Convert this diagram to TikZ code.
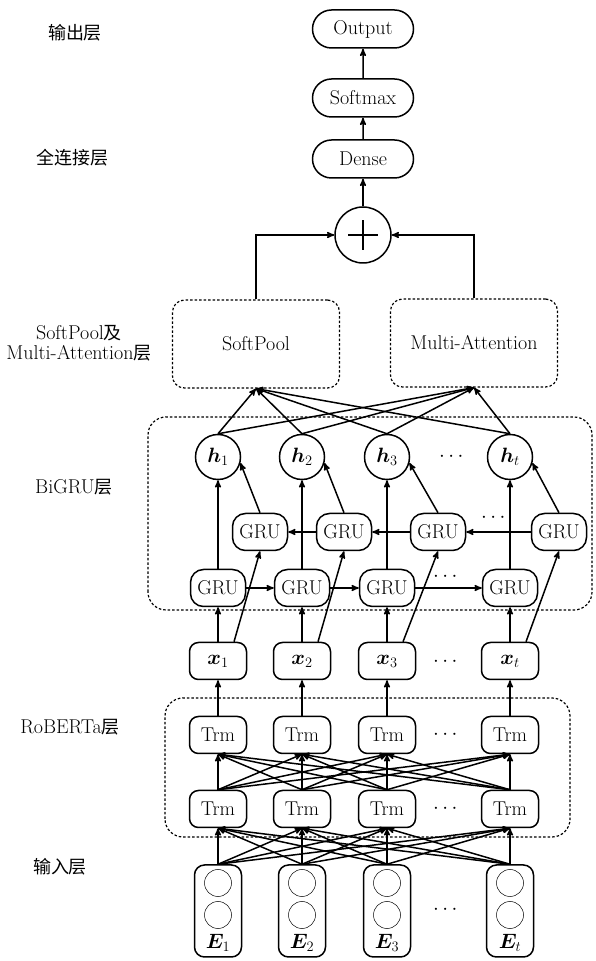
\documentclass[tikz,border=0pt]{standalone}
\usepackage{fontspec}
\usepackage{amsmath}
\usepackage{bm}
\newfontfamily\cjk[Scale=0.9]{Noto Sans CJK SC}
\usetikzlibrary{arrows}
\usetikzlibrary{shapes.misc}

\begin{document}
\begin{tikzpicture}[x=1pt,y=1pt,>=stealth',line width=1.5pt,font=\fontsize{20}{20}\selectfont,
  every text node part/.style={align=center},
  box/.style={draw,rounded corners=9pt,minimum width=57pt,minimum height=37pt,inner sep=0pt},
  gru/.style={draw,rounded corners=13pt,minimum width=55pt,minimum height=37pt,inner sep=0pt},
  hnode/.style={draw,circle,minimum size=45pt,inner sep=0pt},
  ebox/.style={draw,rounded corners=10pt,minimum width=47pt,minimum height=92pt},
  cell/.style={draw,circle,line width=0.5pt,minimum size=27pt,inner sep=0pt},
  pill/.style={draw,rounded rectangle,minimum width=101pt,minimum height=38pt,inner sep=0pt},
  pool/.style={draw,dash pattern=on 2.5pt off 2pt,line width=1.2pt,rounded corners=12pt,minimum width=167pt,minimum height=88pt},
  group/.style={draw,dash pattern=on 2.5pt off 2pt,line width=1.2pt,rounded corners=18pt}]
  \useasboundingbox (0,0) rectangle (595,961);

  % top: output part
  \node[pill]  (out)   at (363,932)  {Output};
  \node[pill]  (smax)  [below of=out,node distance=69pt]  {Softmax};
  \node[pill]  (dense) [below of=smax,node distance=61pt] {Dense};
  \node[draw,circle,minimum size=56pt] (plus) [below of=dense,node distance=76pt] {};
  \draw (plus.center) +(-15,0) -- +(15,0) (plus.center) +(0,-15) -- +(0,15);
  \node[pool]  (sp)    at (256,617)  {SoftPool};
  \node[pool]  (ma)    at (474,618)  {Multi-Attention};

  % layer containers
  \draw[group] (148,351) rectangle (592,544);
  \draw[group] (165,124) rectangle (570,263);

  % columns
  \foreach \i/\x/\d/\s in {1/218/42/1,2/302/42/2,3/387/51/3,4/510/49/t} {
    \node[ebox] (e\i)  at (\x,50) {};
    \node[cell] (ca\i) at ([yshift=28pt]e\i.center) {};
    \node[cell] (cb\i) at ([yshift=-4pt]e\i.center) {};
    \node       (el\i) at ([yshift=15pt]e\i.south) {$\bm{E}_{\s}$};
    \node[box]  (tl\i) [above of=e\i,node distance=102pt]  {Trm};
    \node[box]  (tu\i) [above of=tl\i,node distance=74pt]  {Trm};
    \node[box]  (x\i)  [above of=tu\i,node distance=74pt]  {$\bm{x}_{\s}$};
    \node[gru]  (gf\i) [above of=x\i,node distance=73pt]   {GRU};
    \node[gru]  (gb\i) at ([shift={(\d,56)}]gf\i.center)   {GRU};
    \node[hnode] (h\i) [above of=gf\i,node distance=131pt] {$\bm{h}_{\s}$};
  }

  % dots
  \node (hd)  at (453,504) {$\cdots$};
  \node (gbd) at (495,443) {$\cdots$};
  \node (gfd) at (447,384) {$\cdots$};
  \node (xd)  at (447,299) {$\cdots$};
  \node (tud) at (447,226) {$\cdots$};
  \node (tld) at (447,152) {$\cdots$};
  \node (ed)  at (447,51)  {$\cdots$};

  % connections
  \foreach \i in {1,...,4} {
    \foreach \j in {1,...,4} {
      \draw[->] (e\i.north) -- (tl\j.south);
      \draw[->] (tl\i.north) -- (tu\j.south);
    }
    \path[->] (tu\i) edge (x\i);
    \path[->] (x\i) edge (gf\i);
    \draw[->] ([xshift=16pt]x\i.north) -- (gb\i.south);
    \path[->] (gf\i) edge (h\i);
    \draw[->] (gb\i.north) -- (h\i.-15);
    \draw[->] (h\i.north) -- (sp.south);
    \draw[->] (h\i.north) -- (ma.south);
  }
  \path[->] (gf1) edge (gf2);
  \path[->] (gf2) edge (gf3);
  \path[->] (gf3) edge (gf4);
  \path[->] (gb4) edge (gb3);
  \path[->] (gb3) edge (gb2);
  \path[->] (gb2) edge (gb1);
  \draw[->] (sp.north) |- (plus.west);
  \draw[->] (ma.north) |- (plus.east);
  \path[->] (plus) edge (dense);
  \path[->] (dense) edge (smax);
  \path[->] (smax) edge (out);

  % layer names
  \node (lout)  at (75,928) {\cjk 输出层};
  \node (lfc)   at (72,803) {\cjk 全连接层};
  \node (lpool) at (79,618) {SoftPool{\cjk 及}\\Multi-Attention{\cjk 层}};
  \node (lgru)  at (74,474) {BiGRU{\cjk 层}};
  \node (lrob)  at (70,234) {RoBERTa{\cjk 层}};
  \node (lin)   at (60,94)  {\cjk 输入层};
\end{tikzpicture}
\end{document}
